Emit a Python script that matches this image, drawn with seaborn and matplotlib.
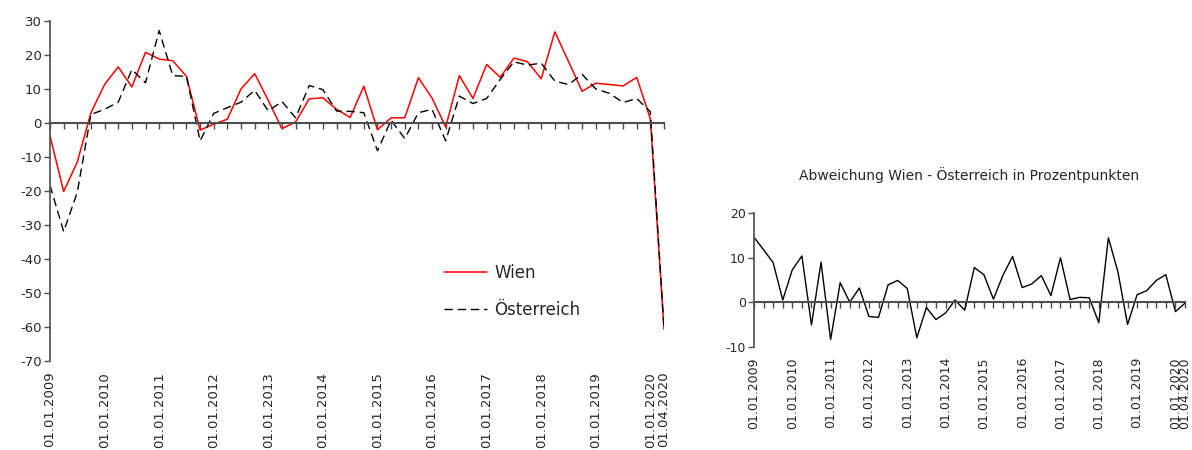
"""
Wien vs. Österreich: quarterly change and deviation in percentage points
"""

import matplotlib.pyplot as plt
import pandas as pd
import seaborn as sns

# -----------------------------
# Data
# -----------------------------
QUARTERS = pd.date_range("2009-01-01", periods=46, freq="QS")

WIEN = [
    -3.8, -20.2, -11.5, 3.0,
    11.3, 16.5, 10.6, 20.8,
    18.8, 18.3, 13.7, -2.1,
    -0.4, 1.1, 10.0, 14.5,
    6.6, -1.7, 0.3, 7.1,
    7.4, 4.0, 1.6, 10.8,
    -2.0, 1.5, 1.5, 13.3,
    7.3, -1.2, 13.9, 7.2,
    17.2, 13.4, 19.1, 18.0,
    13.0, 26.8, 18.1, 9.3,
    11.7, 11.3, 10.9, 13.4,
    1.2, -60.7,
]

OESTERREICH = [
    -18.4, -32.0, -20.4, 2.5,
    4.0, 6.1, 15.7, 11.8,
    27.2, 13.9, 13.7, -5.3,
    2.8, 4.5, 6.1, 9.6,
    3.5, 6.3, 1.5, 11.0,
    9.8, 3.5, 3.4, 3.0,
    -8.2, 0.8, -4.6, 3.0,
    4.0, -5.3, 7.9, 5.7,
    7.2, 12.8, 18.0, 17.0,
    17.6, 12.3, 11.3, 14.3,
    10.0, 8.7, 6.0, 7.2,
    3.3, -60.5,
]

LEFT_YTICKS = [30, 20, 10, 0, -10, -20, -30, -40, -50, -60, -70]
RIGHT_YTICKS = [20, 10, 0, -10]
DIFF_TITLE = "Abweichung Wien - Österreich in Prozentpunkten"

W, H = 1192, 450
AXIS_COLOR = "#4d4d4d"
TEXT_COLOR = "#262626"

sns.set_theme(style="white")
plt.rcParams["font.family"] = ["DejaVu Sans"]
plt.rcParams["axes.unicode_minus"] = False
plt.rcParams["text.color"] = TEXT_COLOR
plt.rcParams["xtick.color"] = AXIS_COLOR
plt.rcParams["ytick.color"] = AXIS_COLOR
plt.rcParams["xtick.labelcolor"] = TEXT_COLOR
plt.rcParams["ytick.labelcolor"] = TEXT_COLOR


# -----------------------------
# Helpers
# -----------------------------
def build_frame() -> pd.DataFrame:
    df = pd.DataFrame({
        "q": range(len(QUARTERS)),
        "date": QUARTERS,
        "Wien": WIEN,
        "Österreich": OESTERREICH,
    })
    df["diff"] = df["Wien"] - df["Österreich"]
    return df


def style_axis(ax, df, yticks, label_size, label_pad):
    ax.set_xlim(0, len(df) - 1)
    ax.set_ylim(min(yticks), max(yticks))
    ax.set_yticks(yticks)
    ax.tick_params(axis="y", direction="out", length=4, width=1,
                   labelsize=label_size, pad=2, left=True)

    for side in ("top", "right"):
        ax.spines[side].set_visible(False)
    ax.spines["left"].set_color(AXIS_COLOR)
    ax.spines["left"].set_linewidth(1.2)
    ax.spines["bottom"].set_position(("data", 0))
    ax.spines["bottom"].set_color(AXIS_COLOR)
    ax.spines["bottom"].set_linewidth(1.5)

    # every quarter gets a tick on the zero line
    ax.set_xticks(df["q"])
    ax.tick_params(axis="x", direction="out", length=4, width=1,
                   labelbottom=False, bottom=True)
    ax.set_xlabel("")
    ax.set_ylabel("")

    # date labels sit under the plot area
    show = df[(df["date"].dt.month == 1) | (df["q"] == df["q"].max())]
    sec = ax.secondary_xaxis("bottom")
    sec.spines["bottom"].set_visible(False)
    sec.set_xticks(show["q"], show["date"].dt.strftime("%d.%m.%Y"))
    sec.tick_params(axis="x", length=0, labelsize=label_size, pad=label_pad,
                    labelrotation=90)


# -----------------------------
# Plot
# -----------------------------
def main() -> None:
    df = build_frame()

    fig = plt.figure(figsize=(W / 100, H / 100), dpi=100)
    ax1 = fig.add_axes([50 / W, 89.3 / H, 614 / W, 339.7 / H])
    ax2 = fig.add_axes([754 / W, 103.3 / H, 431 / W, 133.4 / H])

    sns.lineplot(data=df, x="q", y="Wien", ax=ax1, color="#ff0000",
                 linewidth=1.1, label="Wien")
    sns.lineplot(data=df, x="q", y="Österreich", ax=ax1, color="black",
                 linewidth=1.0, linestyle=(0, (6, 3.5)), label="Österreich")
    style_axis(ax1, df, LEFT_YTICKS, 9.5, 8)

    ax1.legend(loc="upper left", bbox_to_anchor=(444 / W, 1 - 264 / H),
               bbox_transform=fig.transFigure, frameon=False, fontsize=12,
               handlelength=2.6, handletextpad=0.4, labelspacing=1.15,
               borderpad=0, borderaxespad=0)

    sns.lineplot(data=df, x="q", y="diff", ax=ax2, color="black", linewidth=1.0)
    style_axis(ax2, df, RIGHT_YTICKS, 9, 7.5)
    ax2.set_title(DIFF_TITLE, fontsize=10, pad=24, color=TEXT_COLOR)

    fig.savefig("out.png", dpi=100)
    plt.close(fig)


if __name__ == "__main__":
    main()
